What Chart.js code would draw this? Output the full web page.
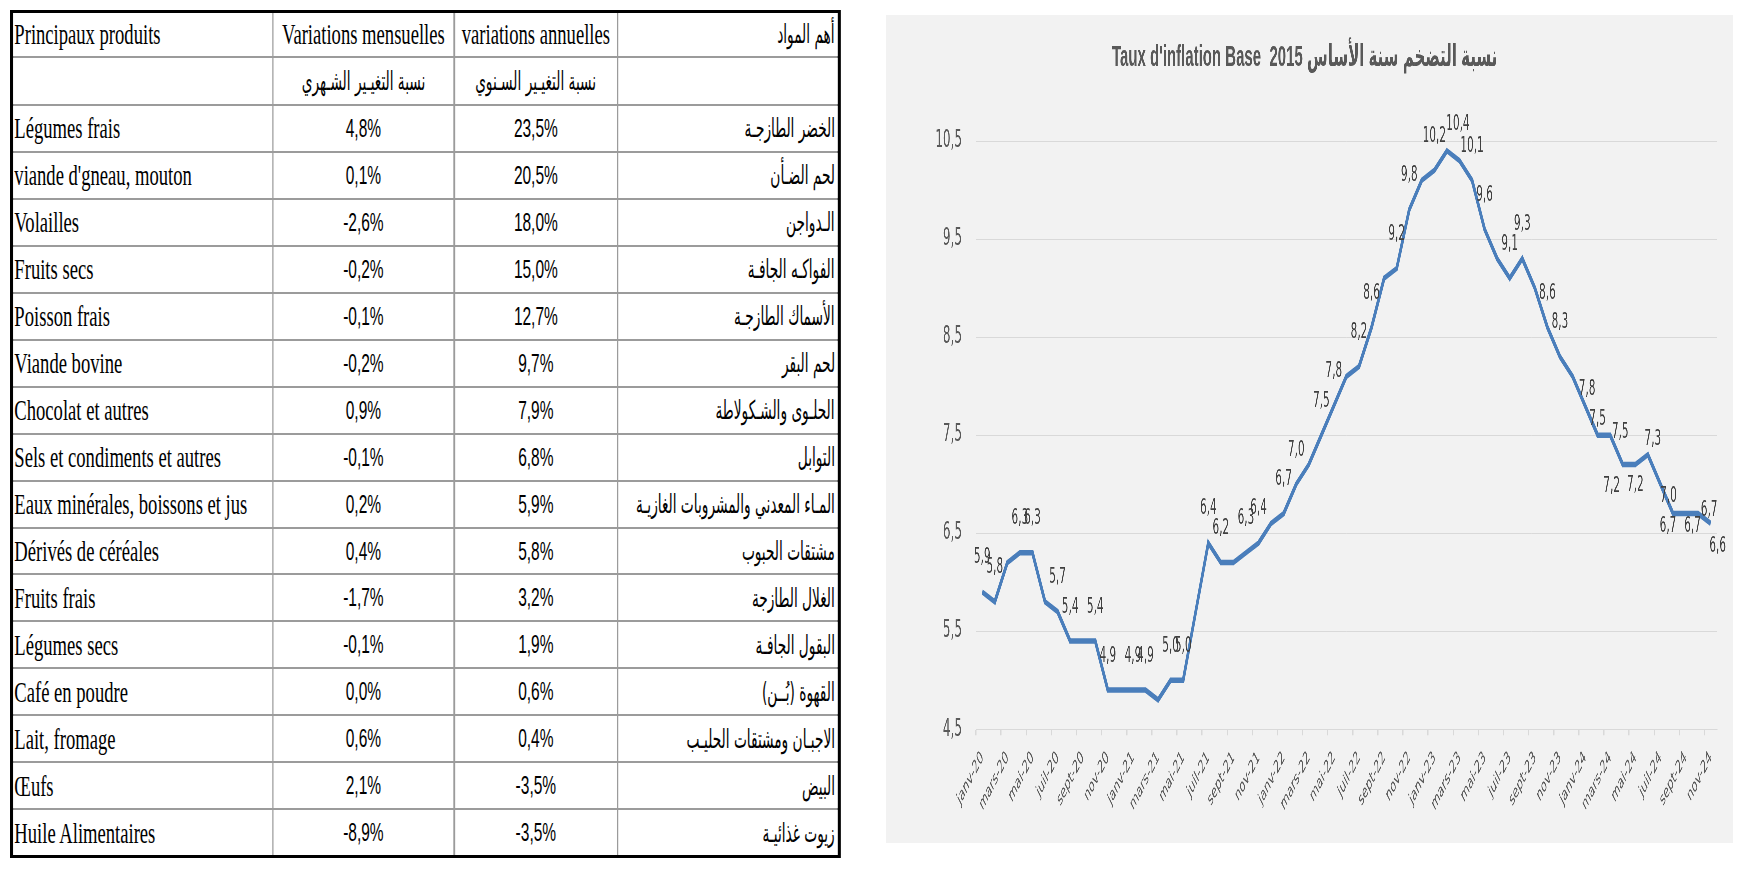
<!DOCTYPE html>
<html lang="fr">
<head>
<meta charset="utf-8">
<title>Taux d'inflation Base 2015</title>
<script src="https://cdn.jsdelivr.net/npm/chart.js@4.4.1/dist/chart.umd.min.js"></script>
<style>
    html, body {
        margin: 0;
        padding: 0;
        background: #ffffff;
        width: 1746px;
        height: 869px;
        overflow: hidden;
    }
    /* Tableau des produits (texte etroit comme dans l'original) */
    #tableau {
        position: absolute;
        left: 10px;
        top: 10px;
        transform: scaleX(0.62);
        transform-origin: 0 0;
        display: grid;
        grid-template-columns: 417.5px 290px 261.3px 354px;
        grid-template-rows: 42.5px 46.3px repeat(16, 44.97px);
        gap: 2px 2.5px;
        background: #9b9b9b;
        border: 3px solid #000000;
        border-left-width: 5px;
        border-right-width: 5px;
    }
    .cell {
        background: #ffffff;
        display: flex;
        align-items: center;
        font-family: 'Liberation Serif', 'Times New Roman', serif;
        font-size: 30px;
        color: #000000;
        white-space: nowrap;
        overflow: hidden;
    }
    .fr { justify-content: flex-start; padding-left: 2px; }
    .hd { justify-content: center; }
    .num { justify-content: center; font-family: 'Liberation Sans', Arial, sans-serif; font-size: 25px; }
    .ar, .arc { font-family: 'DejaVu Sans', sans-serif; font-size: 26px; }
    .ar { justify-content: flex-end; padding-right: 5px; }
    .arc { justify-content: center; }
    .ar span, .arc span { display: inline-block; transform: scaleX(0.85); }
    .ar span { transform-origin: right center; }
    .arc span { transform-origin: center center; }
    /* Graphique */
    #graphique {
        position: absolute;
        left: 886px;
        top: 15px;
        width: 1694px;
        height: 828px;
        background: #f2f2f2;
        transform: scaleX(0.5);
        transform-origin: 0 0;
    }
</style>
</head>
<body>
<div id="tableau"></div>
<div id="graphique"><canvas id="inflationChart" width="1694" height="828"></canvas></div>

<script>
// Donnees du tableau
const produits = ['Légumes frais', "viande d'gneau, mouton", 'Volailles', 'Fruits secs', 'Poisson frais',
    'Viande bovine', 'Chocolat et autres', 'Sels et condiments et autres', 'Eaux minérales, boissons et jus',
    'Dérivés de céréales', 'Fruits frais', 'Légumes secs', 'Café en poudre', 'Lait, fromage', 'Œufs',
    'Huile Alimentaires'];
const produitsAr = ['الخضر الطازجـة', 'لحم الضـأن', 'الـدواجن', 'الفواكـه الجافـة', 'الأسماك الطازجـة',
    'لحم البقر', 'الحلـوى والشـكولاطة', 'التوابل', 'المـاء المعدني والمشروبات الغازيـة',
    'مشتقات الحبوب', 'الغلال الطازجة', 'البقول الجافـة', 'القهوة (بُــن)', 'الاجبـان ومشتقات الحليـب',
    'البيض', 'زيوت غذائيـة'];
const variationsMensuelles = [4.8, 0.1, -2.6, -0.2, -0.1, -0.2, 0.9, -0.1, 0.2, 0.4, -1.7, -0.1, 0.0, 0.6, 2.1, -8.9];
const variationsAnnuelles = [23.5, 20.5, 18.0, 15.0, 12.7, 9.7, 7.9, 6.8, 5.9, 5.8, 3.2, 1.9, 0.6, 0.4, -3.5, -3.5];

// Donnees du graphique (janv-20 a nov-24)
const moisNoms = ['janv', 'févr', 'mars', 'avr', 'mai', 'juin', 'juil', 'août', 'sept', 'oct', 'nov', 'déc'];
const annees = ['20', '21', '22', '23', '24'];
const tauxInflation = [
    5.9, 5.8, 6.2, 6.3, 6.3, 5.8, 5.7, 5.4, 5.4, 5.4, 4.9, 4.9,
    4.9, 4.9, 4.8, 5.0, 5.0, 5.7, 6.4, 6.2, 6.2, 6.3, 6.4, 6.6,
    6.7, 7.0, 7.2, 7.5, 7.8, 8.1, 8.2, 8.6, 9.1, 9.2, 9.8, 10.1,
    10.2, 10.4, 10.3, 10.1, 9.6, 9.3, 9.1, 9.3, 9.0, 8.6, 8.3, 8.1,
    7.8, 7.5, 7.5, 7.2, 7.2, 7.3, 7.0, 6.7, 6.7, 6.7, 6.6
];
const pointsEtiquetes = [0, 1, 3, 4, 6, 7, 9, 10, 12, 13, 15, 16, 18, 19, 21, 22, 24, 25, 27, 28,
    30, 31, 33, 34, 36, 37, 39, 40, 42, 43, 45, 46, 48, 49, 50, 51, 52, 53, 54, 55, 56, 57, 58];
const titre = "Taux d'inflation Base  2015 نسبة التضخم سنة الأساس";

// Decalages des etiquettes deplacees a la main (x, y)
const decalageDefaut = [0, -34];
const decalages = {
    37: [22, -26], 48: [4, -16], 49: [0, -16], 50: [20, -3], 51: [-22, 22], 52: [0, 21],
    53: [10, -15], 54: [16, 12], 55: [-10, 13], 56: [14, 13], 57: [22, -3], 58: [14, 23]
};

function formatVirgule(v) {
    return v.toFixed(1).replace('.', ',');
}

// Construire le tableau
function construireTableau() {
    const t = document.getElementById('tableau');
    let html = '';
    html += '<div class="cell fr">Principaux produits</div>';
    html += '<div class="cell hd">Variations mensuelles</div>';
    html += '<div class="cell hd">variations annuelles</div>';
    html += '<div class="cell ar"><span dir="rtl">أهم المواد</span></div>';
    html += '<div class="cell"></div>';
    html += '<div class="cell arc"><span dir="rtl">نسبة التغيـير الشـهري</span></div>';
    html += '<div class="cell arc"><span dir="rtl">نسبة التغيـير السـنوي</span></div>';
    html += '<div class="cell"></div>';
    produits.forEach((p, i) => {
        html += '<div class="cell fr">' + p + '</div>';
        html += '<div class="cell num">' + formatVirgule(variationsMensuelles[i]) + '%</div>';
        html += '<div class="cell num">' + formatVirgule(variationsAnnuelles[i]) + '%</div>';
        html += '<div class="cell ar"><span dir="rtl">' + produitsAr[i] + '</span></div>';
    });
    t.innerHTML = html;
}

// Etiquettes de donnees
const etiquettesPlugin = {
    id: 'etiquettes',
    afterDatasetsDraw(chart) {
        const ctx = chart.ctx;
        const meta = chart.getDatasetMeta(0);
        ctx.save();
        ctx.font = '21px "DejaVu Sans", sans-serif';
        ctx.fillStyle = '#404040';
        ctx.textAlign = 'center';
        ctx.textBaseline = 'middle';
        pointsEtiquetes.forEach(i => {
            const pt = meta.data[i];
            const d = decalages[i] || decalageDefaut;
            ctx.fillText(formatVirgule(tauxInflation[i]), pt.x + d[0], pt.y + d[1]);
        });
        ctx.restore();
    }
};

function initialiserGraphique() {
    const etiquettesMois = [];
    annees.forEach(a => moisNoms.forEach(m => etiquettesMois.push(m + '-' + a)));
    etiquettesMois.length = tauxInflation.length;

    const policeTitre = '"Liberation Sans", "DejaVu Sans", Arial, sans-serif';
    const policeAxes = '"DejaVu Sans", sans-serif';
    const ctx = document.getElementById('inflationChart').getContext('2d');
    new Chart(ctx, {
        type: 'line',
        data: {
            labels: etiquettesMois,
            datasets: [{
                data: tauxInflation,
                borderColor: '#4a7ebb',
                borderWidth: 5.5,
                pointRadius: 0,
                tension: 0,
                fill: false
            }]
        },
        options: {
            responsive: false,
            animation: false,
            layout: {
                padding: { left: 12, right: 32.6, top: 0, bottom: 0 }
            },
            plugins: {
                legend: { display: false },
                tooltip: { enabled: false },
                title: {
                    display: true,
                    text: titre,
                    color: '#595959',
                    font: { family: policeTitre, size: 30, weight: 'bold' },
                    padding: { top: 24.5, bottom: 65.5 }
                }
            },
            scales: {
                x: {
                    offset: true,
                    grid: {
                        offset: true,
                        drawOnChartArea: false,
                        tickLength: 6,
                        lineWidth: 2.5,
                        color: c => c.index % 2 === 0 ? '#d9d9d9' : 'rgba(0,0,0,0)'
                    },
                    border: { color: '#d9d9d9', width: 1 },
                    ticks: {
                        autoSkip: false,
                        maxRotation: 45,
                        minRotation: 45,
                        padding: 12,
                        color: '#595959',
                        font: { family: policeAxes, size: 18 },
                        callback: function(value, index) {
                            return index % 2 === 0 ? this.getLabelForValue(value) : '';
                        }
                    },
                    afterFit: scale => { scale.height = 113.7; }
                },
                y: {
                    min: 4.5,
                    max: 10.5,
                    ticks: {
                        stepSize: 1,
                        padding: 28,
                        color: '#595959',
                        font: { family: policeAxes, size: 24 },
                        callback: value => formatVirgule(value)
                    },
                    grid: { color: '#d9d9d9', lineWidth: 1, drawTicks: false },
                    border: { display: false },
                    afterFit: scale => { scale.width = 167.4; }
                }
            }
        },
        plugins: [etiquettesPlugin]
    });
}

construireTableau();
initialiserGraphique();
</script>
</body>
</html>
